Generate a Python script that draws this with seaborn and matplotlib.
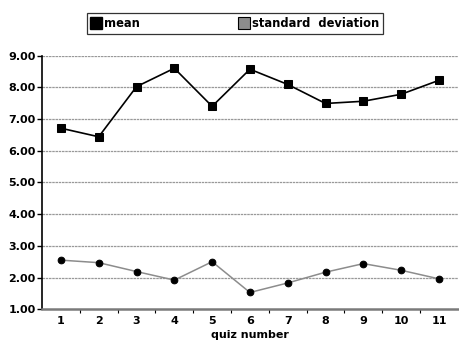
import matplotlib
matplotlib.use("Agg")
import matplotlib.pyplot as plt
from matplotlib.lines import Line2D
import seaborn as sns
import pandas as pd

quiz = [1, 2, 3, 4, 5, 6, 7, 8, 9, 10, 11]
mean_scores = [6.71, 6.44, 8.02, 8.60, 7.40, 8.57, 8.09, 7.49, 7.56, 7.78, 8.22]
sd_scores = [2.55, 2.47, 2.19, 1.92, 2.50, 1.53, 1.83, 2.17, 2.44, 2.23, 1.96]
y_ticks = [1.0, 2.0, 3.0, 4.0, 5.0, 6.0, 7.0, 8.0, 9.0]

sns.set_theme(style="white")
plt.rcParams["font.family"] = ["DejaVu Sans"]
plt.rcParams["font.weight"] = "bold"
plt.rcParams["text.color"] = "black"
plt.rcParams["xtick.color"] = "black"
plt.rcParams["ytick.color"] = "black"
plt.rcParams["axes.labelcolor"] = "black"

df = pd.DataFrame({
    "quiz": quiz * 2,
    "score": mean_scores + sd_scores,
    "stat": ["mean"] * len(quiz) + ["standard deviation"] * len(quiz),
})

fig = plt.figure(figsize=(4.59, 3.41), dpi=100)
ax = fig.add_axes([0.0915, 0.093, 0.906, 0.744])

for y in y_ticks[1:]:
    ax.axhline(y, color="#999999", lw=0.9, ls=(0, (2, 0.6)), zorder=0)

sns.lineplot(data=df[df.stat == "mean"], x="quiz", y="score", ax=ax,
             color="black", lw=1.2, marker="s", markersize=5.4,
             markerfacecolor="black", markeredgecolor="black", zorder=3)
sns.lineplot(data=df[df.stat == "standard deviation"], x="quiz", y="score", ax=ax,
             color="#8c8c8c", lw=1.1, marker="o", markersize=4.8,
             markerfacecolor="black", markeredgecolor="black", zorder=3)

ax.set_xlim(0.5, 11.5)
ax.set_ylim(1.0, 9.0)
ax.set_yticks(y_ticks)
ax.set_yticklabels([f"{v:.2f}" for v in y_ticks], fontsize=8, fontweight="bold")
ax.set_xticks(quiz)
ax.set_xticklabels([str(q) for q in quiz], fontsize=8, fontweight="bold")
ax.set_xticks([q + 0.5 for q in quiz[:-1]], minor=True)
ax.tick_params(axis="x", which="major", length=0, pad=5)
ax.tick_params(axis="x", which="minor", length=3, width=0.8, color="black",
               direction="out", bottom=True)
ax.tick_params(axis="y", length=3.5, width=1, color="black", direction="out",
               left=True, pad=1)

ax.set_xlabel("quiz number", fontsize=8, fontweight="bold")
ax.xaxis.set_label_coords(0.5, -0.1)
ax.xaxis.label.set_va("center")
ax.set_ylabel("")

for s in ["top", "right"]:
    ax.spines[s].set_visible(False)
ax.spines["left"].set_color("black")
ax.spines["left"].set_linewidth(1.2)
ax.spines["bottom"].set_color("#7a7a7a")
ax.spines["bottom"].set_linewidth(1.8)

handles = [
    Line2D([], [], ls="none", marker="s", markersize=8, markerfacecolor="black",
           markeredgecolor="black"),
    Line2D([], [], ls="none", marker="s", markersize=8, markerfacecolor="#8c8c8c",
           markeredgecolor="black", markeredgewidth=0.8),
]
leg = fig.legend(handles, ["mean", "standard  deviation"], loc="center",
                 bbox_to_anchor=(0.512, 0.931), ncol=2, frameon=True,
                 fancybox=False, edgecolor="black", fontsize=8.3,
                 handlelength=0.9, handletextpad=0.2, columnspacing=8.6,
                 borderpad=0.35, borderaxespad=0.0)
leg.get_frame().set_linewidth(0.9)
for t in leg.get_texts():
    t.set_fontweight("bold")
    t.set_color("black")

fig.savefig("out.png", dpi=100)
